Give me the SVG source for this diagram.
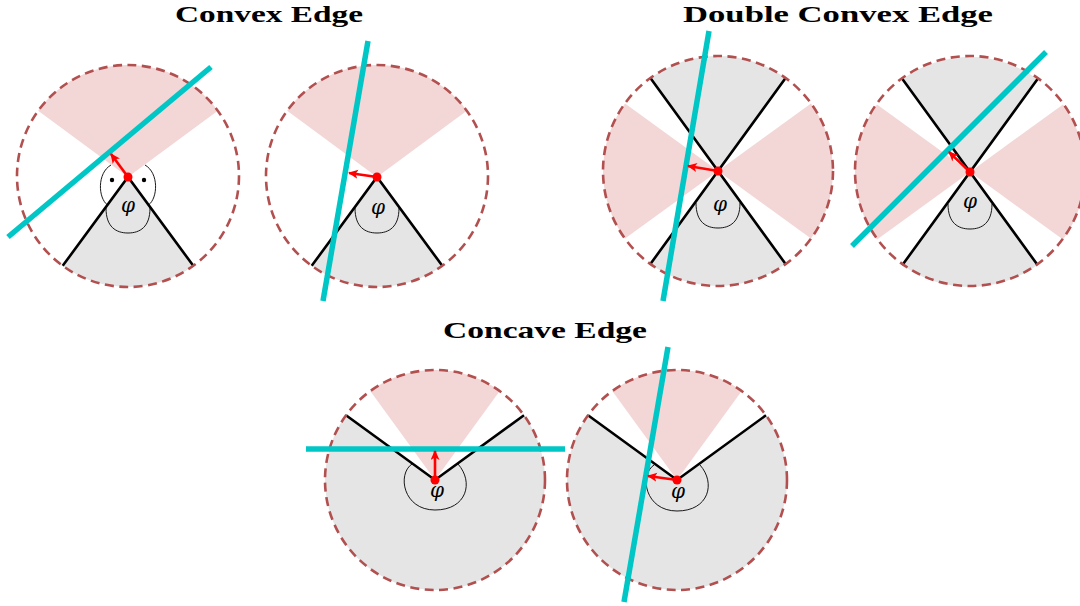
<svg xmlns="http://www.w3.org/2000/svg" xmlns:xlink="http://www.w3.org/1999/xlink" width="1080" height="606" viewBox="0 0 1080 606">
<style>
.gray{fill:#e5e5e5;stroke:none}
.pink{fill:#f3d6d6;stroke:none}
.edge{fill:none;stroke:#000;stroke-width:2.6;stroke-linejoin:miter}
.ring{fill:none;stroke:#b24f4f;stroke-width:2.6;stroke-dasharray:9 5.5}
.cut{stroke:#00c6c6;stroke-width:5.5;fill:none}
.ang{fill:none;stroke:#000;stroke-width:0.9}
.arr{stroke:#ff0000;stroke-width:2.6;fill:none;marker-end:url(#ah)}
.dot{fill:#ff0000}
.title{font-family:"Liberation Serif","Times New Roman",serif;font-weight:bold;font-size:23px;fill:#000}
.phi{font-family:"DejaVu Serif","Liberation Serif",serif;font-style:italic;font-size:20px;text-anchor:middle;fill:#000}
</style>
<defs>
<marker id="ah" markerUnits="userSpaceOnUse" markerWidth="12" markerHeight="10" refX="9" refY="4.5" orient="auto">
<path d="M0,0 L10,4.5 L0,9 L2.5,4.5 Z" fill="#ff0000"/>
</marker>
<path id="uarc" class="ang" d="M-22,31 C-22,50 -12,56 0,56 C12,56 22,50 22,31"/>
<path id="loop" class="ang" d="M-23,-16 C-38,-6 -32,30 0,30 C32,30 39,2 23,-16"/>
</defs>

<g id="titles">
<text class="title" x="175" y="22" textLength="188" lengthAdjust="spacingAndGlyphs">Convex Edge</text>
<text class="title" x="683" y="22" textLength="310" lengthAdjust="spacingAndGlyphs">Double Convex Edge</text>
<text class="title" x="443" y="338" textLength="204" lengthAdjust="spacingAndGlyphs">Concave Edge</text>
</g>

<g id="convex1">
<path class="gray" d="M128,177 L62.7,265.8 A111,111 0 0 0 193.3,265.8 Z"/>
<path class="pink" d="M128,177 L38.2,110.7 A111,111 0 0 1 217.8,110.7 Z"/>
<use xlink:href="#uarc" x="128" y="177"/>
<path class="ang" d="M111,165 C97,173 98,198 107.5,205"/>
<path class="ang" d="M145,165 C159,173 158,198 148.5,205"/>
<circle cx="112" cy="180" r="2.2" fill="#000"/>
<circle cx="144" cy="180" r="2.2" fill="#000"/>
<text class="phi" x="128" y="212">φ</text>
<path class="edge" d="M62.7,265.8 L128,177 L193.3,265.8"/>
<circle class="ring" cx="128" cy="176" r="111"/>
<line class="cut" x1="8" y1="237" x2="211" y2="67"/>
<line class="arr" x1="128" y1="177" x2="111" y2="154"/>
<circle class="dot" cx="128" cy="177" r="4.5"/>
</g>

<g id="convex2">
<path class="gray" d="M377,177 L311.7,265.8 A111,111 0 0 0 442.3,265.8 Z"/>
<path class="pink" d="M377,177 L287.2,110.7 A111,111 0 0 1 466.8,110.7 Z"/>
<use xlink:href="#uarc" x="377" y="177"/>
<text class="phi" x="378" y="214">φ</text>
<path class="edge" d="M311.7,265.8 L377,177 L442.3,265.8"/>
<circle class="ring" cx="377" cy="176" r="111"/>
<line class="cut" x1="368" y1="41" x2="323" y2="301"/>
<line class="arr" x1="377" y1="177" x2="349" y2="173"/>
<circle class="dot" cx="377" cy="177" r="4.5"/>
</g>

<g id="double1">
<path class="gray" d="M718,171 L650.4,78 A115,115 0 0 1 785.6,78 Z"/>
<path class="gray" d="M718,171 L650.4,264 A115,115 0 0 0 785.6,264 Z"/>
<path class="pink" d="M718,171 L811,103.4 A115,115 0 0 1 811,238.6 Z"/>
<path class="pink" d="M718,171 L625,238.6 A115,115 0 0 1 625,103.4 Z"/>
<use xlink:href="#uarc" x="718" y="172"/>
<text class="phi" x="720" y="211">φ</text>
<path class="edge" d="M650.4,78 L785.6,264 M785.6,78 L650.4,264"/>
<circle class="ring" cx="718" cy="171" r="115"/>
<line class="cut" x1="709" y1="31" x2="663" y2="301"/>
<line class="arr" x1="718" y1="171" x2="688" y2="166"/>
<circle class="dot" cx="718" cy="171" r="4.5"/>
</g>

<g id="double2">
<path class="gray" d="M970,172 L902.4,79 A115,115 0 0 1 1037.6,79 Z"/>
<path class="gray" d="M970,172 L902.4,265 A115,115 0 0 0 1037.6,265 Z"/>
<path class="pink" d="M970,172 L1063,104.4 A115,115 0 0 1 1063,239.6 Z"/>
<path class="pink" d="M970,172 L877,239.6 A115,115 0 0 1 877,104.4 Z"/>
<use xlink:href="#uarc" x="970" y="173"/>
<text class="phi" x="970" y="208">φ</text>
<path class="edge" d="M902.4,79 L1037.6,265 M1037.6,79 L902.4,265"/>
<circle class="ring" cx="970" cy="171" r="115"/>
<line class="cut" x1="852" y1="246" x2="1046" y2="52"/>
<line class="arr" x1="970" y1="172" x2="949" y2="152"/>
<circle class="dot" cx="970" cy="172" r="4.5"/>
</g>

<g id="concave1">
<path class="gray" d="M435,480 L346,415.3 A110,110 0 1 0 524,415.3 Z"/>
<path class="pink" d="M435,480 L370.3,391 A110,110 0 0 1 499.7,391 Z"/>
<use xlink:href="#loop" x="435" y="480"/>
<text class="phi" x="437" y="497">φ</text>
<path class="edge" d="M346,415.3 L435,480 L524,415.3"/>
<circle class="ring" cx="435" cy="480" r="110"/>
<line class="cut" x1="306" y1="449" x2="565" y2="449"/>
<line class="arr" x1="435" y1="480" x2="435" y2="451"/>
<circle class="dot" cx="435" cy="480" r="4.5"/>
</g>

<g id="concave2">
<path class="gray" d="M677,480 L588,415.3 A110,110 0 1 0 766,415.3 Z"/>
<path class="pink" d="M677,480 L612.3,391 A110,110 0 0 1 741.7,391 Z"/>
<use xlink:href="#loop" x="677" y="481"/>
<text class="phi" x="678" y="498">φ</text>
<path class="edge" d="M588,415.3 L677,480 L766,415.3"/>
<circle class="ring" cx="677" cy="480" r="110"/>
<line class="cut" x1="668" y1="347" x2="624" y2="602"/>
<line class="arr" x1="677" y1="480" x2="648" y2="476"/>
<circle class="dot" cx="677" cy="480" r="4.5"/>
</g>
</svg>
